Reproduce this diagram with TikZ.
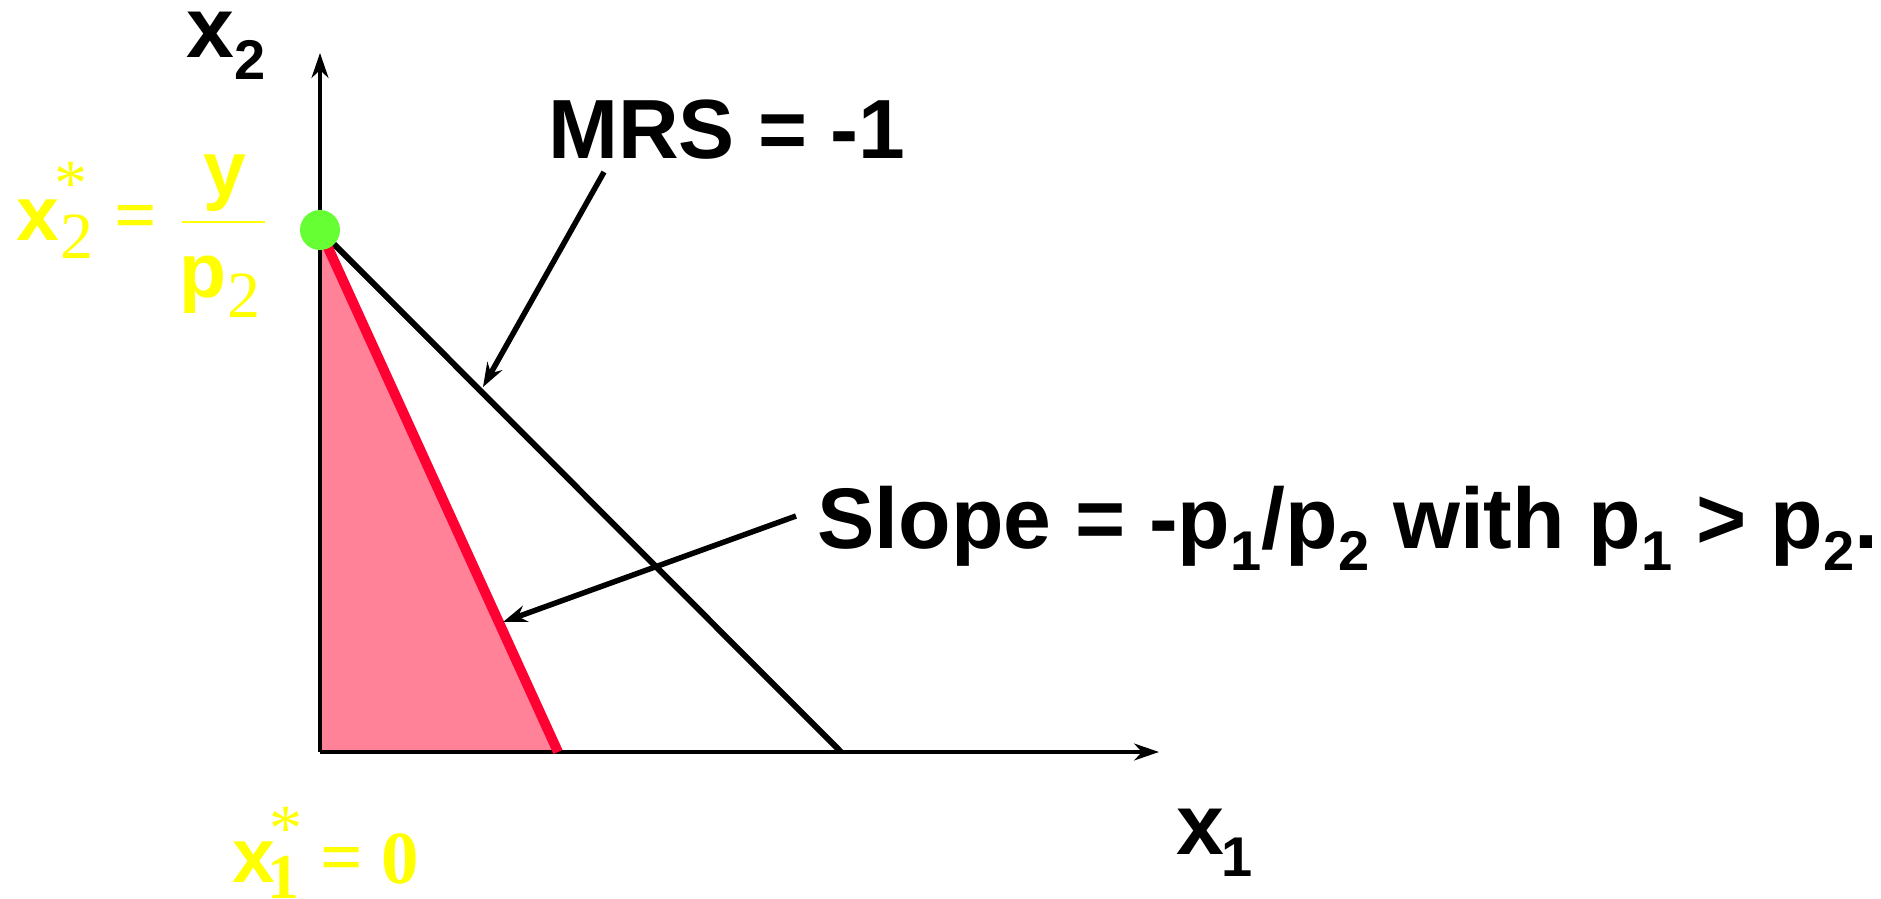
\documentclass[tikz,border=0pt]{standalone}
\usepackage{fontspec}
\setmainfont{Liberation Sans}
\newfontfamily\tnr{Liberation Serif}
\usetikzlibrary{arrows.meta}
\definecolor{ylw}{RGB}{255,255,0}
\definecolor{grn}{RGB}{102,255,51}
\definecolor{redl}{RGB}{255,0,51}
\definecolor{pinkf}{RGB}{255,130,152}
\newcommand{\mysub}[1]{\raisebox{-22pt}{\fontsize{56}{56}\selectfont #1}}
\begin{document}
\begin{tikzpicture}[x=1pt,y=-1pt,
  lbl/.style={inner sep=0pt, anchor=base west, font=\fontsize{86}{90}\selectfont\bfseries},
  ysans/.style={inner sep=0pt, anchor=base west, text=ylw, font=\fontsize{77}{80}\selectfont\bfseries},
  yser/.style={inner sep=0pt, anchor=base west, text=ylw, font=\fontsize{66}{66}\selectfont\tnr},
  yserb/.style={inner sep=0pt, anchor=base west, text=ylw, font=\fontsize{64}{64}\selectfont\tnr\bfseries},
  yserbig/.style={inner sep=0pt, anchor=base west, text=ylw, font=\fontsize{75}{75}\selectfont\tnr\bfseries},
  axis/.style={line width=3.2pt, -{Stealth[length=25pt,width=17pt,inset=8pt]}},
  callout/.style={line width=5.5pt, -{Stealth[length=24pt,width=17pt,inset=8pt]}}
]
\useasboundingbox (0,0) rectangle (1881,899);
\fill[white] (0,0) rectangle (1881,899);
% points
\coordinate (O) at (320,752);
\coordinate (ytop) at (320,53);
\coordinate (xend) at (1159,752);
\coordinate (A) at (320,230);
\coordinate (B) at (841,752);
\coordinate (R) at (558,752);
\coordinate (mrsS) at (604,172);
\coordinate (mrsT) at (483,387);
\coordinate (slS) at (796,516);
\coordinate (slT) at (503,622);
% pink region
\fill[pinkf] (A) -- (R) -- (O) -- cycle;
% axes
\draw[axis] (O) -- (ytop);
\draw[axis] (O) -- (xend);
% budget line MRS
\draw[line width=6pt] (A) -- (B);
% red line
\draw[redl, line width=10pt] (A) -- (R);
% green dot
\fill[grn] (A) circle (20);
% callouts
\draw[callout] (mrsS) -- (mrsT);
\draw[callout] (slS) -- (slT);
% black labels
\node[lbl] (x2lab) at (186,58) {x\mysub{2}};
\node[lbl] (x1lab) at (1176,854) {x\kern-3pt\mysub{1}};
\node[lbl, font=\fontsize{84}{90}\selectfont\bfseries] (mrs) at (548,158) {MRS = -1};
\node[lbl] (slope) at (817,548) {Slope = -p\mysub{1}/p\mysub{2} with p\mysub{1} > p\mysub{2}.};
% yellow x2* label
\node[ysans] (x2sx) at (16,240) {x};
\node[yser] (x2s2) at (60,258) {2};
\node[yser] (x2sst) at (54,205) {*};
\node[yserbig] (x2seq) at (114,240) {=};
\node[ysans] (x2sy) at (203,195) {y};
\draw[ylw, line width=2pt] (182,222) -- (265,222);
\node[ysans] (x2sp) at (179,297) {p};
\node[yser] (x2sp2) at (227,317) {2};
% yellow x1* label
\node[ysans] (x1sx) at (232,882) {x};
\node[yserb] (x1s1) at (267,898) {1};
\node[yser] (x1sst) at (269,850) {*};
\node[yserbig] (x1seq) at (320,882) {=};
\node[yserbig] (x1s0) at (381,883) {0};
\end{tikzpicture}
\end{document}
